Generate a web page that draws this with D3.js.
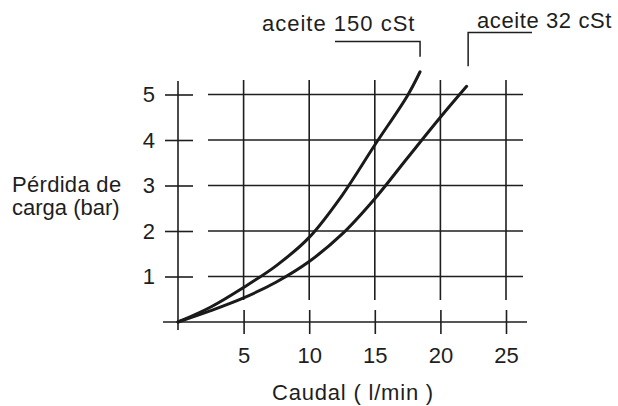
<!DOCTYPE html>
<html>
<head>
<meta charset="utf-8">
<script src="https://cdn.jsdelivr.net/npm/d3@7"></script>
<style>
  body { margin: 0; background: #fff; }
  svg text { font-family: "Liberation Sans", Arial, sans-serif; fill: #1e1e1e; }
  .grid line { stroke: #1e1e1e; stroke-width: 1.6; }
  .curve { fill: none; stroke: #1a1a1a; stroke-width: 3; stroke-linecap: round; }
</style>
</head>
<body>
<div id="chart"></div>
<script>
// values
const xTicks = [5, 10, 15, 20, 25];
const yTicks = [1, 2, 3, 4, 5];

// aceite 150 cSt
const caudal150 = [0, 2.5, 5, 7.5, 10, 12.5, 15, 17.5, 18.45];
const perdida150 = [0, 0.33, 0.76, 1.24, 1.86, 2.78, 3.89, 4.98, 5.5];

// aceite 32 cSt
const caudal32 = [0, 2.5, 5, 7.5, 10, 12.5, 15, 17.5, 20, 22];
const perdida32 = [0, 0.25, 0.53, 0.88, 1.33, 1.93, 2.71, 3.61, 4.5, 5.18];

const labels = ["aceite 150 cSt", "aceite 32 cSt"];

const W = 618, H = 406;

let svg = d3.select("#chart").append("svg")
  .attr("width", W)
  .attr("height", H);

// set the ranges
let x = d3.scaleLinear().domain([0, 25]).range([178, 506]);
let y = d3.scaleLinear().domain([0, 5]).range([322, 94.5]);

// horizontal grid lines (start a bit right of the axis)
svg.append("g").attr("class", "grid")
  .selectAll("line").data(yTicks).enter().append("line")
  .attr("x1", 208).attr("x2", 523)
  .attr("y1", d => y(d)).attr("y2", d => y(d));

// vertical grid lines (stop above the x axis)
svg.append("g").attr("class", "grid")
  .selectAll("line").data(xTicks).enter().append("line")
  .attr("x1", d => x(d)).attr("x2", d => x(d))
  .attr("y1", 80).attr("y2", 300);

// main axes lines
svg.append("g").attr("class", "grid")
  .call(g => g.append("line").attr("x1", x(0)).attr("x2", x(0)).attr("y1", 81).attr("y2", 330))
  .call(g => g.append("line").attr("x1", 163).attr("x2", 527).attr("y1", y(0)).attr("y2", y(0)));

// Y axis: cross ticks + labels
svg.append("g")
  .attr("transform", "translate(" + x(0) + ",0)")
  .call(d3.axisLeft(y).tickValues(yTicks).tickFormat(d3.format("d")).tickSize(13).tickPadding(10));
svg.append("g")
  .attr("transform", "translate(" + x(0) + ",0)")
  .call(d3.axisRight(y).tickValues(yTicks).tickSize(15).tickFormat(""));

// X axis: cross ticks + labels
svg.append("g")
  .attr("transform", "translate(0," + y(0) + ")")
  .call(d3.axisBottom(x).tickValues(xTicks).tickFormat(d3.format("d")).tickSize(12).tickPadding(13));
svg.append("g")
  .attr("transform", "translate(0," + y(0) + ")")
  .call(d3.axisTop(x).tickValues(xTicks).tickSize(12).tickFormat(""));

svg.selectAll(".domain").remove();
svg.selectAll(".tick line").attr("stroke", "#1e1e1e").attr("stroke-width", 1.6);
svg.selectAll(".tick text").attr("font-size", 22).attr("fill", "#1e1e1e")
  .style("font-family", "'Liberation Sans', Arial, sans-serif");

// define the line
let valueline = d3.line()
  .x(d => x(d[0]))
  .y(d => y(d[1]))
  .curve(d3.curveCatmullRom.alpha(0.5));

let data150 = caudal150.map((c, i) => [c, perdida150[i]]);
let data32 = caudal32.map((c, i) => [c, perdida32[i]]);

svg.append("path").datum(data150).attr("class", "curve").attr("d", valueline);
svg.append("path").datum(data32).attr("class", "curve").attr("d", valueline);

// leader lines to the labels
let end150 = data150[data150.length - 1];
let end32 = data32[data32.length - 1];
svg.append("path").attr("fill", "none").attr("stroke", "#1e1e1e").attr("stroke-width", 1.5)
  .attr("d", "M335,41.5H" + x(end150[0]) + "V" + (y(end150[1]) - 15));
svg.append("path").attr("fill", "none").attr("stroke", "#1e1e1e").attr("stroke-width", 1.5)
  .attr("d", "M" + (x(end32[0]) + 1.5) + "," + (y(end32[1]) - 20) + "V32.5H532");

svg.append("text").attr("x", 262).attr("y", 31)
  .attr("font-size", 22).style("letter-spacing", "1px").text(labels[0]);
svg.append("text").attr("x", 477).attr("y", 28)
  .attr("font-size", 22).style("letter-spacing", "0.6px").text(labels[1]);

// axis titles
svg.append("text").attr("x", 12).attr("y", 191.5)
  .attr("font-size", 22).style("letter-spacing", "0.3px").text("Pérdida de");
svg.append("text").attr("x", 12).attr("y", 215)
  .attr("font-size", 22).style("letter-spacing", "0px").text("carga (bar)");
svg.append("text").attr("x", 272).attr("y", 400)
  .attr("font-size", 22).style("letter-spacing", "0.8px").text("Caudal ( l/min )");
</script>
</body>
</html>
